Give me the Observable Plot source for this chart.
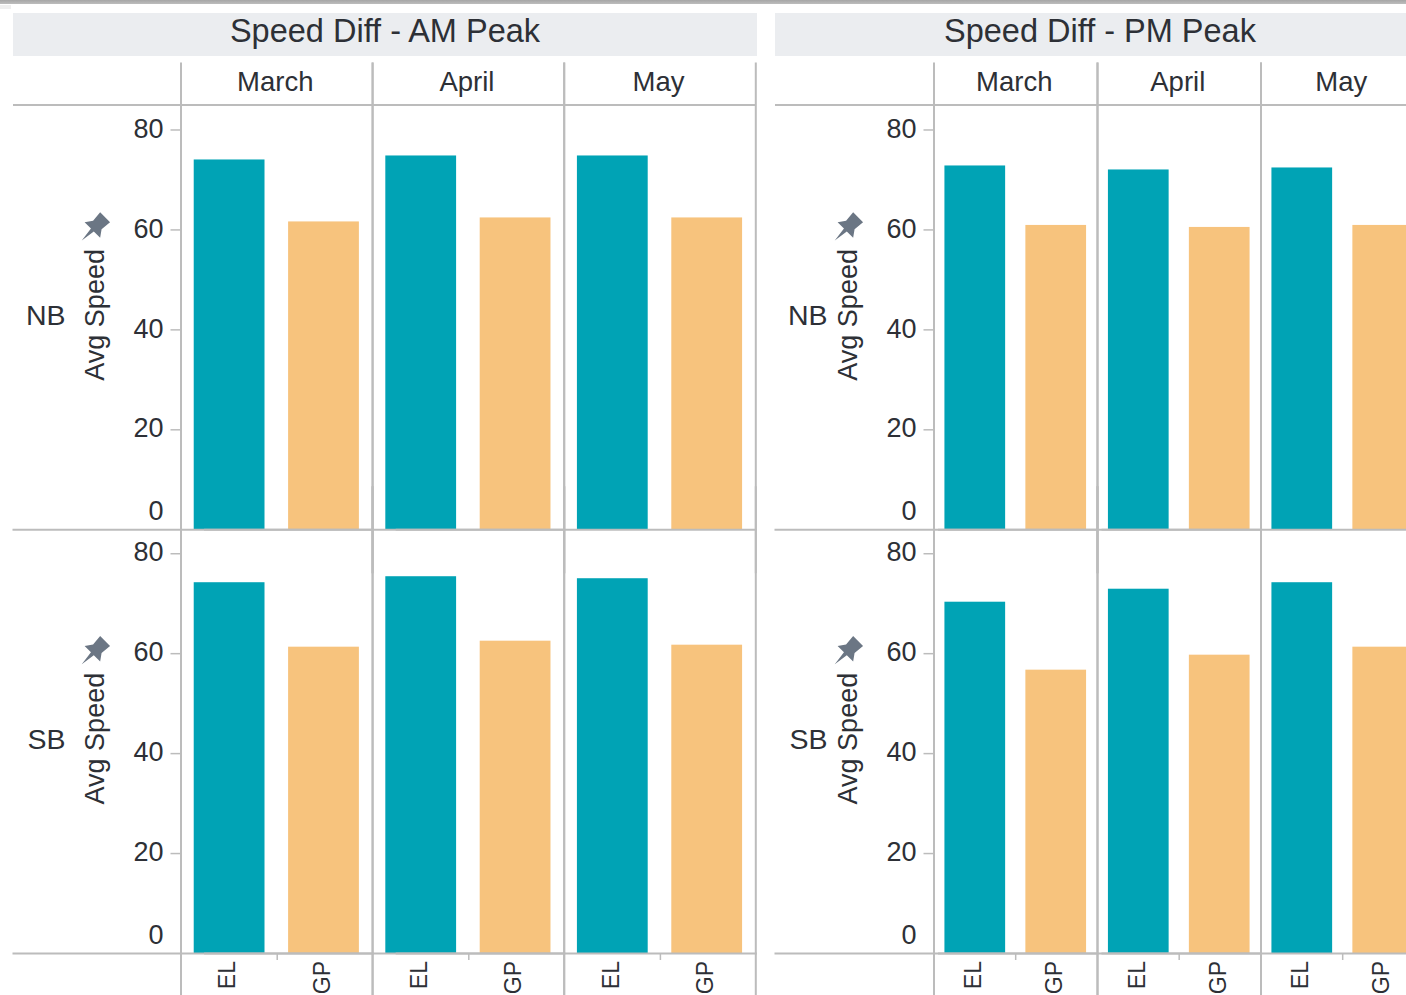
<!DOCTYPE html>
<html>
<head>
<meta charset="utf-8">
<script src="https://cdn.jsdelivr.net/npm/d3@7"></script>
<script src="https://cdn.jsdelivr.net/npm/@observablehq/plot@0.6"></script>
<style>
html,body{margin:0;padding:0;width:1406px;height:995px;overflow:hidden;background:#fff;font-family:"Liberation Sans",Arial,sans-serif;}
#page{position:relative;width:1406px;height:995px;overflow:hidden;}
#strip{position:absolute;left:0;top:0;width:1406px;height:4px;background:linear-gradient(#a6a6a6,#bdbdbd);}
#nick{position:absolute;left:0;top:5px;width:11px;height:4px;background:#efefef;}
.band{position:absolute;top:13px;height:43px;line-height:37px;background:#ebedf0;color:#2d3036;font-size:32.5px;text-align:center;white-space:nowrap;}
.panel{position:absolute;top:60px;}
.panel svg{display:block;overflow:visible;max-width:none !important;}
</style>
</head>
<body>
<div id="page">
  <div id="strip"></div><div id="nick"></div>
  <div class="band" id="t0" style="left:13px;width:744px;"></div>
  <div class="band" id="t1" style="left:775px;width:650px;"></div>
  <div class="panel" id="p0" style="left:13px;width:744px;"></div>
  <div class="panel" id="p1" style="left:775px;width:650px;"></div>
</div>
<script>
const titles = ["Speed Diff - AM Peak", "Speed Diff - PM Peak"];
const months = ["March", "April", "May"];
const directions = ["NB", "SB"];
const lanes = ["EL", "GP"];
const yTicks = [20, 40, 60, 80];
const yMax = 84.8;
const yLabel = "Avg Speed";

// values in order March EL, March GP, April EL, April GP, May EL, May GP
const amNB = [74.0, 61.6, 74.8, 62.4, 74.8, 62.4];
const amSB = [74.2, 61.3, 75.4, 62.5, 75.0, 61.7];
const pmNB = [72.8, 60.9, 72.0, 60.5, 72.4, 60.9];
const pmSB = [70.3, 56.7, 72.9, 59.7, 74.2, 61.3];

const teal = "#00a3b5", sand = "#f7c37d", lineGrey = "#bcbcbc", ink = "#2d3036";

function rows(nb, sb) {
  const out = [];
  directions.forEach((direction, r) => {
    const vals = r === 0 ? nb : sb;
    months.forEach((month, m) => lanes.forEach((lane, l) => {
      out.push({direction, month, lane, speed: vals[m * 2 + l]});
    }));
  });
  return out;
}

// Pushpin drawn as a dot symbol, tilted 45 degrees
const pin = {draw(ctx) {
  const pts = [[-7,-15],[7,-15],[6,-4],[11,3],[2,3],[0,18],[-2,3],[-11,3],[-6,-4]];
  const c = Math.SQRT1_2;
  pts.forEach(([x, y], i) => {
    const X = c * (x - y), Y = c * (x + y);
    if (i === 0) ctx.moveTo(X, Y); else ctx.lineTo(X, Y);
  });
  ctx.closePath();
}};

function panel(data, o) {
  const firstCol = () => months[0];
  return Plot.plot({
    width: o.width, height: 935,
    marginLeft: o.left, marginRight: o.width - o.left - 3 * o.step, marginTop: 45.5, marginBottom: 42,
    style: {fontFamily: '"Liberation Sans", Arial, sans-serif', color: ink, background: "transparent", overflow: "visible", maxWidth: "none"},
    fx: {domain: months, padding: 0, round: false, label: null},
    fy: {domain: directions, padding: 0, round: false, label: null},
    x: {domain: lanes, paddingInner: o.inner, paddingOuter: o.outer, align: 0.5, round: false, label: null},
    y: {domain: [0, yMax], label: null},
    marks: [
      Plot.barY(data, {x: "lane", y: "speed", fx: "month", fy: "direction",
        fill: d => d.lane === "EL" ? teal : sand}),
      Plot.frame({anchor: "left", stroke: lineGrey, strokeWidth: 2, insetTop: -42.5, insetBottom: -42.5}),
      Plot.frame({anchor: "right", stroke: lineGrey, strokeWidth: 2, insetTop: -42.5, insetBottom: -42.5}),
      Plot.ruleY(directions.slice(0, 1), {y: () => yMax, fy: d => d, insetLeft: -o.left, dy: -1, stroke: lineGrey, strokeWidth: 2}),
      Plot.frame({anchor: "bottom", stroke: lineGrey, strokeWidth: 2, insetLeft: -o.left}),
      Plot.ruleX(["EL"], {x: d => d, y1: 0, y2: -1.4, fy: () => "SB", dx: o.mid, stroke: lineGrey, strokeWidth: 1.5}),
      Plot.axisY({ticks: yTicks, tickSize: 10, tickFormat: () => "", stroke: lineGrey, strokeWidth: 1.5, label: null}),
      Plot.axisY({ticks: yTicks, tickSize: 0, tickPadding: 17.5, fontSize: 27, dy: -1, fill: ink, label: null}),
      Plot.axisY({ticks: [0], tickSize: 0, tickPadding: 17.5, fontSize: 27, dy: -18, fill: ink, label: null}),
      Plot.axisFx({anchor: "top", tickSize: 0, tickPadding: 15, fontSize: 27.5, fill: ink, dx: -1.5, label: null}),
      Plot.axisFy({anchor: "left", tickSize: 0, tickPadding: o.rowPad, fontSize: 28.5, fill: ink, dy: -2, label: null}),
      Plot.axisX({anchor: "bottom", tickSize: 0, tickPadding: 7.5, tickRotate: -90, fontSize: 23, fill: ink, dx: -1.5, label: null}),
      Plot.text(directions, {fx: firstCol, fy: d => d, text: () => yLabel, frameAnchor: "left", textAnchor: "middle", rotate: -90,
        dx: -86, dy: -3, fontSize: 27, fill: ink}),
      Plot.dot(directions, {fx: firstCol, fy: d => d, frameAnchor: "left", symbol: pin, r: 5,
        dx: -86.5, dy: -90, fill: "#6b7684", stroke: "none"})
    ]
  });
}

document.getElementById("t0").textContent = titles[0];
document.getElementById("t1").textContent = titles[1];
document.getElementById("p0").append(panel(rows(amNB, amSB), {width: 744, left: 167.5, step: 191.6, inner: 0.25, outer: 0.14, mid: 47.6, rowPad: 115.5}));
document.getElementById("p1").append(panel(rows(pmNB, pmSB), {width: 650, left: 158.5, step: 163.5, inner: 0.25, outer: 0.135, mid: 40.4, rowPad: 106.5}));
</script>
</body>
</html>
